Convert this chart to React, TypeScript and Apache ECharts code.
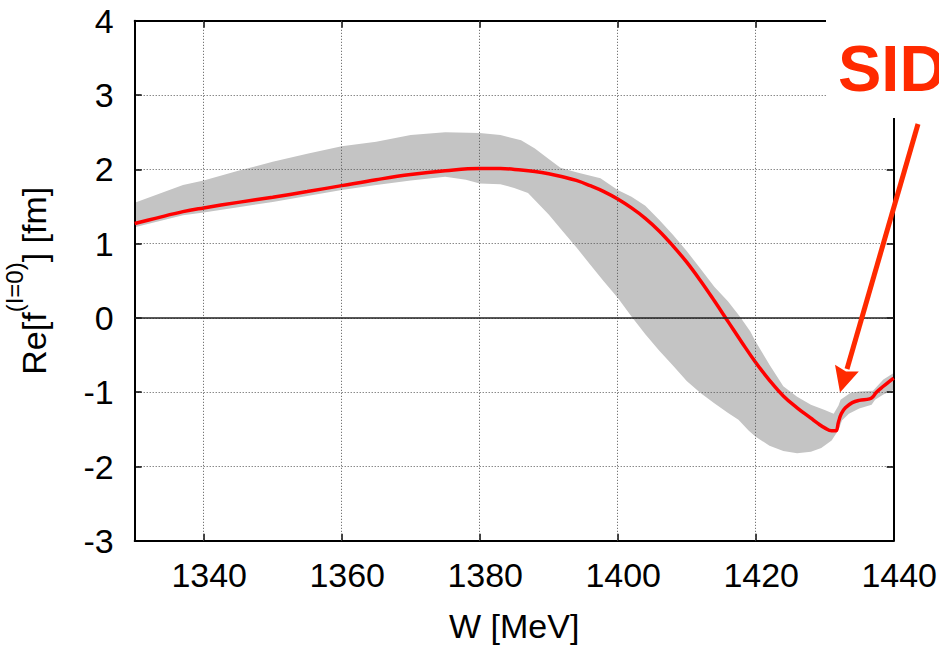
import React, { useEffect, useRef } from "react";
import * as echarts from "echarts";

// Central curve Re[f^(I=0)] (W [MeV], fm)
const redCurve: [number, number][] = [
  [1330, 1.27], [1333, 1.34], [1337, 1.43], [1340, 1.48], [1345, 1.555], [1350, 1.625],
  [1355, 1.70], [1360, 1.78], [1365, 1.86], [1370, 1.93], [1375, 1.98], [1380, 2.01],
  [1383, 2.01], [1386, 1.99], [1388, 1.97], [1390, 1.94], [1392, 1.90], [1394, 1.85],
  [1396, 1.78], [1398, 1.70], [1400, 1.60], [1402, 1.48], [1404, 1.34], [1406, 1.17],
  [1408, 0.97], [1410, 0.75], [1412, 0.50], [1414, 0.23], [1416, -0.05], [1418, -0.33],
  [1420, -0.60], [1422, -0.84], [1424, -1.05], [1426, -1.21], [1428, -1.35], [1429, -1.42],
  [1430, -1.48], [1431, -1.52], [1431.6, -1.52], [1432, -1.40], [1432.4, -1.29],
  [1433, -1.21], [1434, -1.14], [1435, -1.11], [1436.5, -1.09], [1437, -1.06],
  [1437.5, -1.00], [1438.5, -0.92], [1439.3, -0.86], [1440, -0.81],
];

// Upper edge of the uncertainty band
const bandUpper: [number, number][] = [
  [1330, 1.55], [1337, 1.79], [1340, 1.85], [1345, 1.98], [1350, 2.10], [1355, 2.21],
  [1360, 2.31], [1365, 2.37], [1370, 2.46], [1375, 2.50], [1380, 2.49], [1383, 2.46],
  [1386, 2.39], [1388, 2.28], [1390, 2.14], [1391.7, 2.02], [1394, 1.96], [1397.5, 1.88],
  [1400, 1.72], [1402, 1.63], [1404, 1.51], [1406, 1.32], [1408, 1.12], [1410, 0.90],
  [1412, 0.66], [1414, 0.42], [1416, 0.22], [1417.7, 0.02], [1419.2, -0.18], [1420, -0.32],
  [1422, -0.63], [1424, -0.92], [1426, -1.06], [1428, -1.17], [1430, -1.24], [1431.3, -1.29],
  [1432, -1.18], [1432.3, -1.10], [1433.7, -1.01], [1435, -0.99], [1437, -0.98],
  [1438.5, -0.83], [1440, -0.74],
];

// Lower edge of the uncertainty band
const bandLower: [number, number][] = [
  [1330, 1.22], [1337, 1.38], [1340, 1.42], [1345, 1.49], [1350, 1.56], [1355, 1.64],
  [1360, 1.72], [1365, 1.79], [1370, 1.85], [1375, 1.90], [1378, 1.86], [1380, 1.81],
  [1383, 1.80], [1385, 1.75], [1387, 1.68], [1390, 1.39], [1392, 1.17], [1394, 0.95],
  [1396, 0.72], [1398, 0.49], [1400, 0.27], [1402, 0.02], [1404, -0.22], [1406, -0.44],
  [1408, -0.64], [1410, -0.85], [1412, -1.01], [1414, -1.15], [1416, -1.28], [1417.5, -1.37],
  [1419, -1.52], [1420, -1.60], [1422, -1.72], [1424, -1.79], [1426, -1.82], [1428, -1.80],
  [1429.5, -1.75], [1431, -1.65], [1432, -1.51], [1432.5, -1.38], [1433.5, -1.29],
  [1435, -1.22], [1436.8, -1.17], [1437.3, -1.10], [1438.5, -1.03], [1440, -0.97],
];

const xGridValues = [1340, 1360, 1380, 1400, 1420];
const xRange = [1330, 1440];
const yRange = [-3, 4];

const FONT = '"Liberation Sans", Arial, Helvetica, sans-serif';

export default function App() {
  const ref = useRef<HTMLDivElement>(null);
  useEffect(() => {
    if (!ref.current) return;
    const chart = echarts.init(ref.current, null, { renderer: "svg" });
    const dotted = { type: [1, 2] as any, color: "#555", width: 1 };
    const axisX = (pos: "bottom" | "top", labels: boolean) => ({
      type: "value",
      position: pos,
      min: xRange[0],
      max: xRange[1],
      minInterval: 20,
      maxInterval: 20,
      axisLine: { show: true, onZero: false, lineStyle: { color: "#000", width: 2 } },
      axisTick: { show: true, inside: true, length: 7, lineStyle: { color: "#000", width: 1.5 } },
      splitLine: { show: false },
      axisLabel: labels
        ? {
            show: true,
            showMinLabel: false,
            margin: 17,
            padding: [0, 0, 0, 11],
            fontSize: 34,
            fontFamily: FONT,
            color: "#000",
            formatter: (v: number) => String(v),
          }
        : { show: false },
      name: labels ? "W [MeV]" : "",
      nameLocation: "middle",
      nameGap: 68,
      nameTextStyle: { fontSize: 34, fontFamily: FONT, color: "#000" },
    });
    const axisY = (pos: "left" | "right", labels: boolean) => ({
      type: "value",
      position: pos,
      min: yRange[0],
      max: yRange[1],
      interval: 1,
      axisLine: { show: true, onZero: false, lineStyle: { color: "#000", width: 2 } },
      axisTick: { show: true, inside: true, length: 7, lineStyle: { color: "#000", width: 1.5 } },
      splitLine: { show: labels, lineStyle: dotted },
      axisLabel: labels
        ? {
            show: true,
            margin: 21,
            padding: [12, 0, 0, 0],
            fontSize: 34,
            fontFamily: FONT,
            color: "#000",
            formatter: (v: number) => String(v),
          }
        : { show: false },
      name: labels ? "{a|Re[f}{b|(I=0)}{a|] [fm]}" : "",
      nameLocation: "middle",
      nameRotate: 90,
      nameGap: 84,
      nameTextStyle: {
        rich: {
          a: { fontSize: 34, fontFamily: FONT, color: "#000", lineHeight: 48, verticalAlign: "bottom" },
          b: { fontSize: 24, fontFamily: FONT, color: "#000", lineHeight: 22, verticalAlign: "top" },
        },
      },
    });

    chart.setOption({
      animation: false,
      backgroundColor: "#fff",
      grid: {
        left: 134.7,
        right: 45.3,
        top: 20.7,
        bottom: 105.2,
        containLabel: false,
        outerBoundsMode: "none",
      },
      xAxis: [axisX("bottom", true), axisX("top", false)],
      yAxis: [axisY("left", true), axisY("right", false)],
      series: [
        {
          type: "custom",
          name: "band",
          z: -1,
          silent: true,
          data: [[bandUpper[0][0], bandUpper[0][1]]],
          encode: { x: 0, y: 1 },
          renderItem: (params: any, api: any) => {
            if (params.dataIndex !== 0) return null;
            const pts: number[][] = [];
            for (const p of bandUpper) pts.push(api.coord(p));
            for (let i = bandLower.length - 1; i >= 0; i--) pts.push(api.coord(bandLower[i]));
            return { type: "polygon", shape: { points: pts }, style: { fill: "#c4c4c4" } };
          },
        },
        {
          type: "line",
          name: "grid",
          z: 1,
          data: [],
          silent: true,
          markLine: {
            silent: true,
            symbol: "none",
            label: { show: false },
            data: [
              ...xGridValues.map((v) => ({ xAxis: v, lineStyle: dotted })),
              { yAxis: 0, lineStyle: { type: "solid", color: "#222", width: 1.6 } },
            ],
          },
        },
        {
          type: "line",
          name: "Re f",
          z: 3,
          data: redCurve,
          showSymbol: false,
          smooth: 0.4,
          lineStyle: { color: "#ff0000", width: 3.5 },
        },
      ],
      graphic: [
        { type: "rect", z: 100, shape: { x: 826, y: 0, width: 113, height: 118 }, style: { fill: "#fff" } },
        {
          type: "text",
          z: 101,
          x: 838,
          y: 68.5,
          style: {
            text: "SID",
            font: 'bold 65px "Liberation Sans", Arial, sans-serif',
            fill: "#ff2a00",
            textAlign: "left",
            textVerticalAlign: "middle",
            align: "left",
            verticalAlign: "middle",
          } as any,
        },
        {
          type: "line",
          z: 101,
          shape: { x1: 918, y1: 124, x2: 847, y2: 369 },
          style: { stroke: "#ff2a00", lineWidth: 5 },
        },
        {
          type: "polygon",
          z: 101,
          shape: { points: [[840, 392.5], [835, 364.8], [846, 371.5], [858.8, 371.6]] },
          style: { fill: "#ff2a00" },
        },
      ],
    });
    return () => chart.dispose();
  }, []);
  return (
    <div
      ref={ref}
      style={{ position: "fixed", left: 0, top: 0, width: 939, height: 646, background: "#fff" }}
    />
  );
}
